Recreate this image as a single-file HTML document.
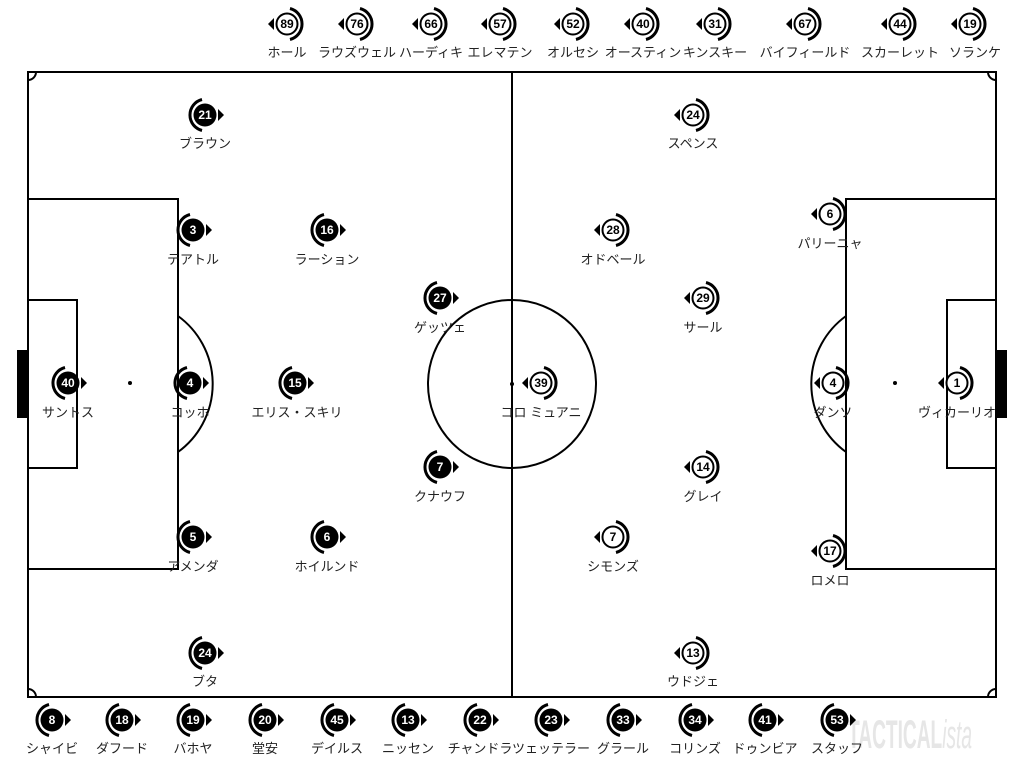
<!DOCTYPE html>
<html><head><meta charset="utf-8"><style>
html,body{margin:0;padding:0;background:#fff;}
svg{display:block}
text{font-family:"Liberation Sans","Noto Sans CJK JP",sans-serif;}
.lb{font-size:13px;fill:#222;text-anchor:middle}
.nw{font-size:12px;font-weight:bold;fill:#fff;text-anchor:middle}
.nb{font-size:12px;font-weight:bold;fill:#000;text-anchor:middle}
</style></head><body>
<svg width="1024" height="768" viewBox="0 0 1024 768" xmlns="http://www.w3.org/2000/svg">
<defs>
<g id="h">
<path d="M -3,-15.5 A 16 16 0 0 0 -3,15.5" fill="none" stroke="#000" stroke-width="3"/>
<circle r="11.5" fill="#000"/>
<path d="M 13,-6 L 19,0 L 13,6 Z" fill="#000"/>
</g>
<g id="a">
<path d="M 3,-15.5 A 16 16 0 0 1 3,15.5" fill="none" stroke="#000" stroke-width="3"/>
<circle r="10.5" fill="#fff" stroke="#000" stroke-width="2"/>
<path d="M -13,-6 L -19,0 L -13,6 Z" fill="#000"/>
</g>
</defs>
<text x="848" y="748" font-size="40" font-weight="bold" fill="#e6e6e6" textLength="124" lengthAdjust="spacingAndGlyphs">TACTICAL<tspan font-weight="normal" font-style="italic">ista</tspan></text>
<g fill="none" stroke="#000" stroke-width="2">
<rect x="28" y="72" width="968" height="625"/>
<line x1="512" y1="72" x2="512" y2="697"/>
<circle cx="512" cy="384" r="84"/>
<rect x="28" y="199" width="150" height="370"/>
<rect x="28" y="300" width="49" height="168"/>
<rect x="846" y="199" width="150" height="370"/>
<rect x="947" y="300" width="49" height="168"/>
<path d="M 178,316 A 84 84 0 0 1 178,452"/>
<path d="M 846,316 A 84 84 0 0 0 846,452"/>
<path d="M 28,80 A 8 8 0 0 0 36,72"/>
<path d="M 988,72 A 8 8 0 0 0 996,80"/>
<path d="M 36,697 A 8 8 0 0 0 28,689"/>
<path d="M 996,689 A 8 8 0 0 0 988,697"/>
</g>
<rect x="17" y="350" width="11" height="68" fill="#000"/>
<rect x="996" y="350" width="11" height="68" fill="#000"/>
<circle cx="130" cy="383" r="2" fill="#000"/>
<circle cx="895" cy="383" r="2" fill="#000"/>
<circle cx="512" cy="384" r="2" fill="#000"/>

<use href="#h" x="205" y="115"/><text class="nw" x="205" y="119">21</text><text class="lb" x="205" y="148">ブラウン</text>
<use href="#h" x="193" y="230"/><text class="nw" x="193" y="234">3</text><text class="lb" x="193" y="264">テアトル</text>
<use href="#h" x="327" y="230"/><text class="nw" x="327" y="234">16</text><text class="lb" x="327" y="264">ラーション</text>
<use href="#h" x="440" y="298"/><text class="nw" x="440" y="302">27</text><text class="lb" x="440" y="332">ゲッツェ</text>
<use href="#h" x="68" y="383"/><text class="nw" x="68" y="387">40</text><text class="lb" x="68" y="417">サントス</text>
<use href="#h" x="190" y="383"/><text class="nw" x="190" y="387">4</text><text class="lb" x="190" y="417">コッホ</text>
<use href="#h" x="295" y="383"/><text class="nw" x="295" y="387">15</text><text class="lb" x="297" y="417">エリス・スキリ</text>
<use href="#h" x="440" y="467"/><text class="nw" x="440" y="471">7</text><text class="lb" x="440" y="501">クナウフ</text>
<use href="#h" x="193" y="537"/><text class="nw" x="193" y="541">5</text><text class="lb" x="193" y="571">アメンダ</text>
<use href="#h" x="327" y="537"/><text class="nw" x="327" y="541">6</text><text class="lb" x="327" y="571">ホイルンド</text>
<use href="#h" x="205" y="653"/><text class="nw" x="205" y="657">24</text><text class="lb" x="205" y="686">ブタ</text>

<use href="#a" x="693" y="115"/><text class="nb" x="693" y="119">24</text><text class="lb" x="693" y="148">スペンス</text>
<use href="#a" x="613" y="230"/><text class="nb" x="613" y="234">28</text><text class="lb" x="613" y="264">オドベール</text>
<use href="#a" x="830" y="214"/><text class="nb" x="830" y="218">6</text><text class="lb" x="830" y="248">パリーニャ</text>
<use href="#a" x="703" y="298"/><text class="nb" x="703" y="302">29</text><text class="lb" x="703" y="332">サール</text>
<use href="#a" x="541" y="383"/><text class="nb" x="541" y="387">39</text><text class="lb" x="541" y="417">コロ ミュアニ</text>
<use href="#a" x="833" y="383"/><text class="nb" x="833" y="387">4</text><text class="lb" x="833" y="417">ダンソ</text>
<use href="#a" x="957" y="383"/><text class="nb" x="957" y="387">1</text><text class="lb" x="957" y="417">ヴィカーリオ</text>
<use href="#a" x="703" y="467"/><text class="nb" x="703" y="471">14</text><text class="lb" x="703" y="501">グレイ</text>
<use href="#a" x="613" y="537"/><text class="nb" x="613" y="541">7</text><text class="lb" x="613" y="571">シモンズ</text>
<use href="#a" x="830" y="551"/><text class="nb" x="830" y="555">17</text><text class="lb" x="830" y="585">ロメロ</text>
<use href="#a" x="693" y="653"/><text class="nb" x="693" y="657">13</text><text class="lb" x="693" y="686">ウドジェ</text>

<use href="#a" x="287" y="24"/><text class="nb" x="287" y="28">89</text><text class="lb" x="287" y="57">ホール</text>
<use href="#a" x="357" y="24"/><text class="nb" x="357" y="28">76</text><text class="lb" x="357" y="57">ラウズウェル</text>
<use href="#a" x="431" y="24"/><text class="nb" x="431" y="28">66</text><text class="lb" x="431" y="57">ハーディキ</text>
<use href="#a" x="500" y="24"/><text class="nb" x="500" y="28">57</text><text class="lb" x="500" y="57">エレマテン</text>
<use href="#a" x="573" y="24"/><text class="nb" x="573" y="28">52</text><text class="lb" x="573" y="57">オルセシ</text>
<use href="#a" x="643" y="24"/><text class="nb" x="643" y="28">40</text><text class="lb" x="643" y="57">オースティン</text>
<use href="#a" x="715" y="24"/><text class="nb" x="715" y="28">31</text><text class="lb" x="715" y="57">キンスキー</text>
<use href="#a" x="805" y="24"/><text class="nb" x="805" y="28">67</text><text class="lb" x="805" y="57">バイフィールド</text>
<use href="#a" x="900" y="24"/><text class="nb" x="900" y="28">44</text><text class="lb" x="900" y="57">スカーレット</text>
<use href="#a" x="970" y="24"/><text class="nb" x="970" y="28">19</text><text class="lb" x="975" y="57">ソランケ</text>

<use href="#h" x="52" y="720"/><text class="nw" x="52" y="724">8</text><text class="lb" x="52" y="753">シャイビ</text>
<use href="#h" x="122" y="720"/><text class="nw" x="122" y="724">18</text><text class="lb" x="122" y="753">ダフード</text>
<use href="#h" x="193" y="720"/><text class="nw" x="193" y="724">19</text><text class="lb" x="193" y="753">バホヤ</text>
<use href="#h" x="265" y="720"/><text class="nw" x="265" y="724">20</text><text class="lb" x="265" y="753">堂安</text>
<use href="#h" x="337" y="720"/><text class="nw" x="337" y="724">45</text><text class="lb" x="337" y="753">デイルス</text>
<use href="#h" x="408" y="720"/><text class="nw" x="408" y="724">13</text><text class="lb" x="408" y="753">ニッセン</text>
<use href="#h" x="480" y="720"/><text class="nw" x="480" y="724">22</text><text class="lb" x="480" y="753">チャンドラ</text>
<use href="#h" x="551" y="720"/><text class="nw" x="551" y="724">23</text><text class="lb" x="551" y="753">ツェッテラー</text>
<use href="#h" x="623" y="720"/><text class="nw" x="623" y="724">33</text><text class="lb" x="623" y="753">グラール</text>
<use href="#h" x="695" y="720"/><text class="nw" x="695" y="724">34</text><text class="lb" x="695" y="753">コリンズ</text>
<use href="#h" x="765" y="720"/><text class="nw" x="765" y="724">41</text><text class="lb" x="765" y="753">ドゥンビア</text>
<use href="#h" x="837" y="720"/><text class="nw" x="837" y="724">53</text><text class="lb" x="837" y="753">スタッフ</text>
</svg>
</body></html>
